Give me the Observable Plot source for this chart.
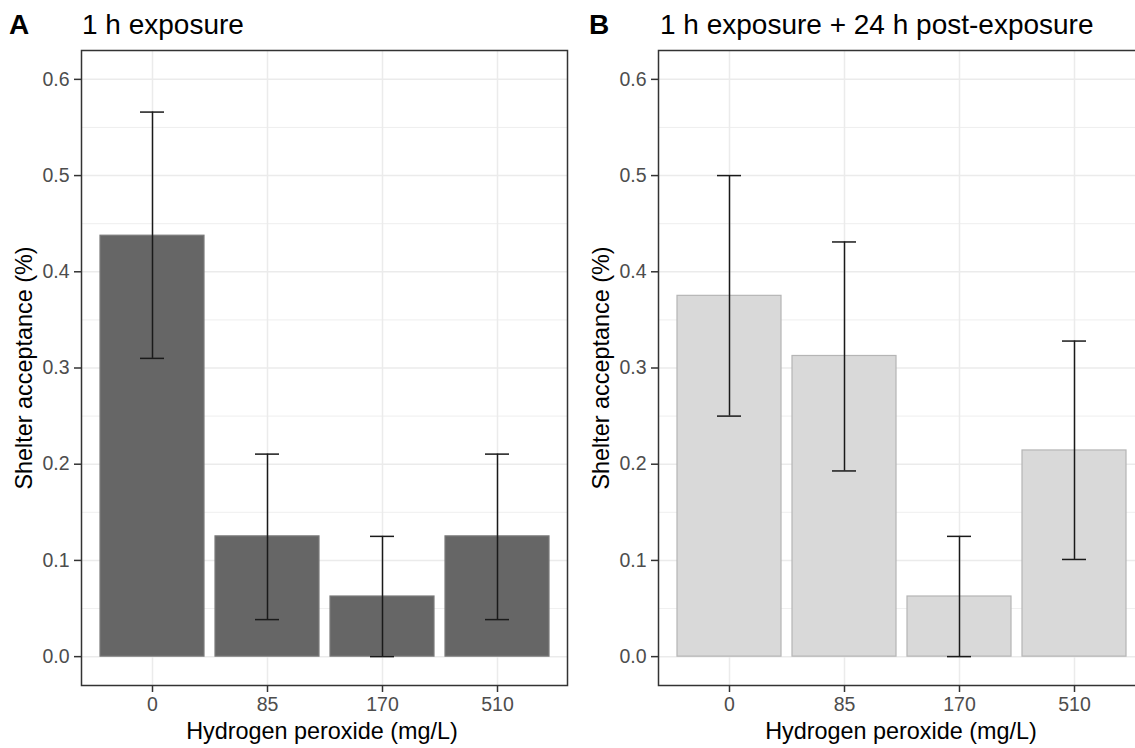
<!DOCTYPE html>
<html>
<head>
<meta charset="utf-8">
<script src="https://cdn.jsdelivr.net/npm/d3@7"></script>
<script src="https://cdn.jsdelivr.net/npm/@observablehq/plot@0.6"></script>
<style>
  html, body { margin: 0; padding: 0; background: #fff; }
  #wrap { position: relative; width: 1135px; height: 748px; overflow: hidden; background: #fff;
          font-family: "Liberation Sans", Arial, sans-serif; }
  .lbl { position: absolute; white-space: nowrap; line-height: 1; color: #000; }
  .svgbox { position: absolute; top: 0; }
</style>
</head>
<body>
<div id="wrap"></div>
<script>
// ---- data ----
const categories = ["0", "85", "170", "510"];
const meanA = [0.4375, 0.125, 0.0625, 0.125];
const lowA  = [0.310, 0.0385, 0.0, 0.0385];
const highA = [0.566, 0.2105, 0.125, 0.2105];
const meanB = [0.375, 0.3125, 0.0625, 0.2143];
const lowB  = [0.25, 0.193, 0.0, 0.101];
const highB = [0.50, 0.431, 0.125, 0.328];
const yTicks = [0, 0.1, 0.2, 0.3, 0.4, 0.5, 0.6];
const yMinor = [0.05, 0.15, 0.25, 0.35, 0.45, 0.55];
const panelTags = ["A", "B"];
const panelTitles = ["1 h exposure", "1 h exposure + 24 h post-exposure"];
const xTitle = "Hydrogen peroxide (mg/L)";
const yTitle = "Shelter acceptance (%)";

const wrap = document.getElementById("wrap");

function panel(mean, low, high, fill, stroke, width, ml, mr) {
  const data = categories.map((c, i) => ({c, m: mean[i], lo: low[i], hi: high[i]}));
  const capInset = 40;
  return Plot.plot({
    width, height: 748,
    marginLeft: ml, marginRight: mr, marginTop: 50, marginBottom: 63,
    style: {fontFamily: "Liberation Sans, Arial, sans-serif", background: "transparent", overflow: "visible"},
    x: {type: "band", domain: categories, paddingInner: 0.1, paddingOuter: 0.15, label: null, axis: null},
    y: {domain: [-0.03, 0.63], label: null, axis: null},
    marks: [
      Plot.gridY(yMinor, {stroke: "#ebebeb", strokeOpacity: 1, strokeWidth: 0.8}),
      Plot.gridY(yTicks, {stroke: "#ebebeb", strokeOpacity: 1, strokeWidth: 1.5}),
      Plot.gridX(categories, {stroke: "#ebebeb", strokeOpacity: 1, strokeWidth: 1.5}),
      Plot.barY(data, {x: "c", y1: 0, y2: "m", fill, stroke, strokeWidth: 1.2}),
      Plot.ruleX(data, {x: "c", y1: "lo", y2: "hi", stroke: "#1a1a1a", strokeWidth: 1.5}),
      Plot.tickY(data, {x: "c", y: "lo", stroke: "#1a1a1a", strokeWidth: 1.5, insetLeft: capInset, insetRight: capInset}),
      Plot.tickY(data, {x: "c", y: "hi", stroke: "#1a1a1a", strokeWidth: 1.5, insetLeft: capInset, insetRight: capInset}),
      Plot.frame({stroke: "#333333", strokeWidth: 1.5}),
      Plot.axisY(yTicks, {tickFormat: d3.format(".1f"), tickSize: 7, tickPadding: 5, stroke: "#333333", fill: "#4d4d4d", fontSize: 19.5, label: null, strokeWidth: 1.5}),
      Plot.axisX(categories, {tickSize: 7, tickPadding: 5, stroke: "#333333", fill: "#4d4d4d", fontSize: 19.5, label: null, strokeWidth: 1.5})
    ]
  });
}

function addSvg(node, left) {
  node.classList.add("svgbox");
  node.style.left = left + "px";
  wrap.appendChild(node);
}

addSvg(panel(meanA, lowA, highA, "#666666", "#7a7a7a", 570, 81, 3), 0);
addSvg(panel(meanB, lowB, highB, "#d9d9d9", "#b5b5b5", 580, 88, 5), 570);

function label(text, left, top, size, opts = {}) {
  const d = document.createElement("div");
  d.className = "lbl";
  d.textContent = text;
  d.style.left = left + "px";
  d.style.top = top + "px";
  d.style.fontSize = size + "px";
  if (opts.bold) d.style.fontWeight = "bold";
  if (opts.transform) d.style.transform = opts.transform;
  wrap.appendChild(d);
  return d;
}

// tags and titles (baseline ~35)
label(panelTags[0], 9, 11.3, 28, {bold: true});
label(panelTitles[0], 82, 11.3, 28);
label(panelTags[1], 589, 11.3, 28, {bold: true});
label(panelTitles[1], 660, 11.3, 28);

// x titles (baseline ~737)
label(xTitle, 322, 719.5, 23.4, {transform: "translateX(-50%)"});
label(xTitle, 901, 719.5, 23.4, {transform: "translateX(-50%)"});

// y titles (rotated)
label(yTitle, 25, 368, 23.4, {transform: "translate(-50%,-50%) rotate(-90deg)"});
label(yTitle, 602, 368, 23.4, {transform: "translate(-50%,-50%) rotate(-90deg)"});
</script>
</body>
</html>
